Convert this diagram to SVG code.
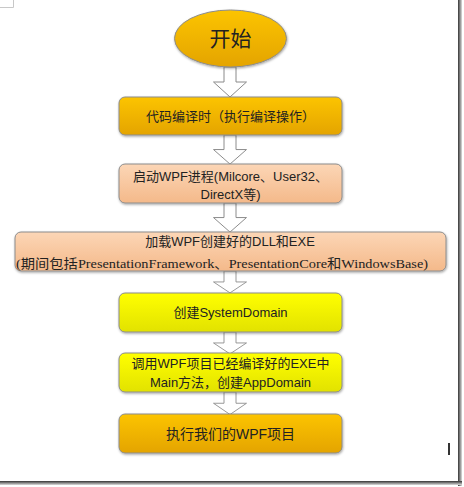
<svg xmlns="http://www.w3.org/2000/svg" width="464" height="487" viewBox="0 0 464 487">
<defs>
<linearGradient id="gOrange" x1="0" y1="0" x2="0" y2="1"><stop offset="0" stop-color="#fcc400"/><stop offset="1" stop-color="#e4a400"/></linearGradient>
<linearGradient id="gPeach" x1="0" y1="0" x2="0" y2="1"><stop offset="0" stop-color="#fcd6b6"/><stop offset="1" stop-color="#f4b98a"/></linearGradient>
<linearGradient id="gYellow" x1="0" y1="0" x2="0" y2="1"><stop offset="0" stop-color="#ffff00"/><stop offset="1" stop-color="#e2e200"/></linearGradient>
<linearGradient id="gShadowR" x1="0" y1="0" x2="1" y2="0"><stop offset="0" stop-color="#333"/><stop offset="1" stop-color="#ddd"/></linearGradient>
<linearGradient id="gShadowB" x1="0" y1="0" x2="0" y2="1"><stop offset="0" stop-color="#333"/><stop offset="1" stop-color="#ddd"/></linearGradient>
<filter id="sh" x="-5%" y="-10%" width="110%" height="130%"><feDropShadow dx="0.6" dy="1.2" stdDeviation="0.8" flood-color="#000" flood-opacity="0.35"/></filter>
<path id="arr" d="M-6,0 H6 V15 H16.5 L0,30 L-16.5,15 H-6 Z"/>
</defs>
<style>
.box{stroke:#8c8c8c;stroke-width:1;filter:url(#sh)}
.t{font-family:"Liberation Sans","Noto Sans CJK SC",sans-serif;font-size:13px;fill:#222;text-anchor:middle}
.ts{font-family:"Liberation Serif","Noto Sans CJK SC",serif;font-size:13px;fill:#222}
.a{fill:#fff;stroke:#8a8a8a;stroke-width:1}
</style>
<rect x="0" y="0" width="464" height="487" fill="#fff"/>
<path d="M0,7.5 H13.5 V0" fill="none" stroke="#c8c8c8" stroke-width="1"/>
<rect x="458" y="0" width="4" height="486" fill="url(#gShadowR)"/>
<rect x="0" y="481" width="462" height="4" fill="url(#gShadowB)"/>
<rect x="448" y="443" width="2" height="12" fill="#333"/>
<g id="connectors">
<use href="#arr" class="a" transform="translate(230,67) scale(1,1)"/>
<use href="#arr" class="a" transform="translate(230,135) scale(1,0.97)"/>
<use href="#arr" class="a" transform="translate(230,203) scale(1,0.97)"/>
<use href="#arr" class="a" transform="translate(230,271) scale(1,0.73)"/>
<use href="#arr" class="a" transform="translate(230,332) scale(1,0.73)"/>
<use href="#arr" class="a" transform="translate(230,392) scale(1,0.75)"/>
</g>
<g id="start">
<ellipse cx="230.5" cy="38.5" rx="56" ry="28.5" fill="url(#gOrange)" class="box"/>
<text x="230.5" y="46" class="t" style="font-size:21px">开始</text>
</g>
<g id="compile">
<rect x="119" y="97" width="223" height="38" rx="6" fill="url(#gOrange)" class="box"/>
<text x="230.5" y="121" class="t">代码编译时（执行编译操作）</text>
</g>
<g id="startwpf">
<rect x="119" y="164" width="223" height="39" rx="6" fill="url(#gPeach)" class="box"/>
<text x="230.5" y="181" class="t">启动WPF进程(Milcore、User32、</text>
<text x="230.5" y="199" class="t">DirectX等)</text>
</g>
<g id="loaddll">
<rect x="15" y="232" width="431" height="39" rx="6" fill="url(#gPeach)" class="box"/>
<text x="230" y="246" class="t">加载WPF创建好的DLL和EXE</text>
<text x="16" y="268" class="ts" textLength="412" lengthAdjust="spacingAndGlyphs">(期间包括PresentationFramework、PresentationCore和WindowsBase)</text>
</g>
<g id="systemdomain">
<rect x="119" y="293" width="223" height="39" rx="6" fill="url(#gYellow)" class="box"/>
<text x="230.5" y="317" class="t">创建SystemDomain</text>
</g>
<g id="appdomain">
<rect x="119" y="353" width="223" height="39" rx="6" fill="url(#gYellow)" class="box"/>
<text x="230.5" y="368" class="t">调用WPF项目已经编译好的EXE中</text>
<text x="230.5" y="387" class="t">Main方法，创建AppDomain</text>
</g>
<g id="run">
<rect x="119" y="414" width="223" height="39" rx="6" fill="url(#gOrange)" class="box"/>
<text x="230.5" y="439" class="t" style="font-size:14px">执行我们的WPF项目</text>
</g>
</svg>
